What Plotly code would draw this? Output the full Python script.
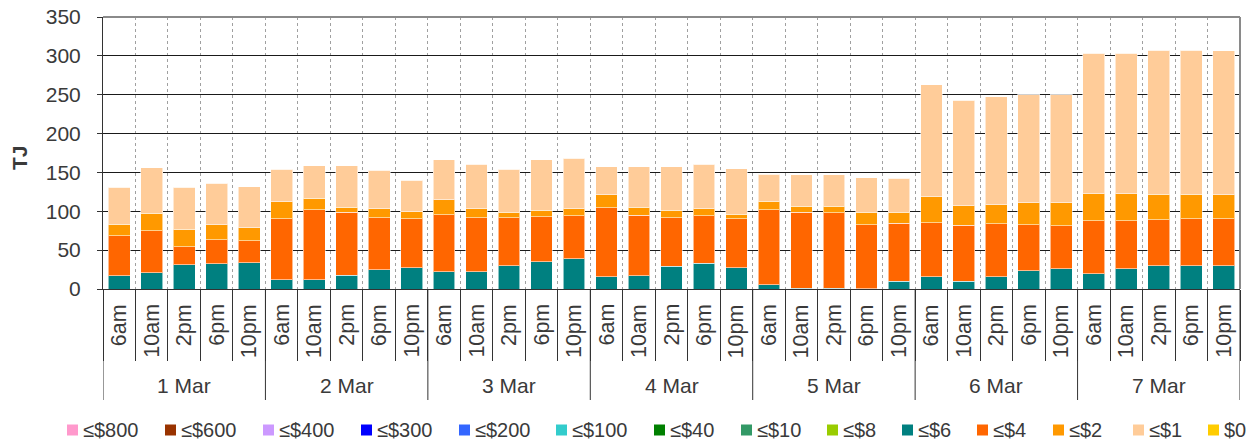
import plotly.graph_objects as go

days = ["1 Mar", "2 Mar", "3 Mar", "4 Mar", "5 Mar", "6 Mar", "7 Mar"]
times = ["6am", "10am", "2pm", "6pm", "10pm"]

series_names = ["≤$800", "≤$600", "≤$400", "≤$300", "≤$200", "≤$100", "≤$40",
                "≤$10", "≤$8", "≤$6", "≤$4", "≤$2", "≤$1", "$0"]
series_colors = ["#FF99CC", "#993300", "#CC99FF", "#0000FF", "#3366FF", "#33CCCC", "#008000",
                 "#339966", "#99CC00", "#008080", "#FF6600", "#FF9900", "#FFCC99", "#FFCC00"]

le6 = [17.2, 20.6, 31.0, 32.7, 33.5,
       11.6, 11.6, 18.0, 24.9, 27.5,
       21.9, 21.9, 30.1, 34.8, 38.7,
       15.5, 16.8, 29.2, 33.1, 27.1,
       5.6, 0.9, 0.9, 0.5, 10.3,
       15.5, 10.3, 15.5, 23.2, 25.8,
       19.8, 25.8, 30.1, 30.1, 30.1]
le4 = [51.6, 54.6, 23.2, 30.9, 28.5,
       78.7, 90.7, 80.5, 66.7, 62.8,
       73.5, 69.7, 61.5, 58.1, 55.5,
       89.0, 78.2, 62.8, 61.1, 63.2,
       96.7, 97.6, 97.1, 82.0, 74.0,
       69.6, 71.8, 68.3, 59.3, 55.5,
       67.9, 61.9, 58.9, 60.6, 60.2]
le2 = [14.6, 22.4, 22.8, 19.4, 16.7,
       21.9, 14.2, 6.4, 11.6, 9.0,
       19.4, 11.6, 7.3, 8.6, 9.0,
       16.7, 10.3, 9.5, 9.0, 5.6,
       10.8, 8.1, 8.6, 16.0, 14.6,
       33.6, 24.9, 24.5, 28.4, 29.6,
       34.8, 34.8, 33.1, 31.4, 30.9]
le1 = [47.3, 58.4, 53.7, 52.9, 52.9,
       42.1, 42.1, 53.7, 49.4, 40.9,
       51.2, 57.6, 55.4, 64.5, 65.3,
       36.1, 52.0, 55.8, 57.2, 58.9,
       34.8, 40.4, 40.4, 44.7, 43.8,
       144.0, 135.9, 138.9, 138.9, 138.9,
       180.6, 180.6, 185.3, 185.3, 185.3]
zero_series = [0.0] * 35

values = {"≤$6": le6, "≤$4": le4, "≤$2": le2, "≤$1": le1}

y_ticks = [0, 50, 100, 150, 200, 250, 300, 350]
y_title = "TJ"

# ---- layout geometry (pixels) ----
W, H = 1253, 443
ML, MR, MT, MB = 103, 13, 17, 154
PW = W - ML - MR
PH = H - MT - MB
TXT = "#3a3a3a"
FONT = "Liberation Sans, Arial, sans-serif"
# legend swatch left edges (px) and vertical centre (px)
legend_left_px = [67, 165, 263, 361, 459, 556, 654, 741, 827, 902, 977, 1053, 1133, 1208]
legend_y_px = 430
SW = 11


def px_to_paper_x(px):
    return (px - ML) / PW


def px_to_paper_y(py):
    return (H - MB - py) / PH


n = len(days) * len(times)
xs = list(range(n))

fig = go.Figure()
for name, color in zip(series_names, series_colors):
    fig.add_trace(go.Bar(
        x=xs, y=values.get(name, zero_series), name=name,
        marker=dict(color=color, line=dict(color="rgba(255,255,255,0.55)", width=1)),
        hoverinfo="name+y", showlegend=False,
    ))

annotations = []
shapes = []
nt = len(times)
for d, day in enumerate(days):
    for t, tm in enumerate(times):
        annotations.append(dict(
            x=d * nt + t, xref="x", y=0, yref="paper", yshift=-13,
            text=tm, textangle=-90, showarrow=False,
            xanchor="center", yanchor="top",
            font=dict(family=FONT, size=21.5, color=TXT)))
    annotations.append(dict(
        x=d * nt + (nt - 1) / 2, xref="x", y=0, yref="paper", yshift=-96,
        text=day, showarrow=False, xanchor="center", yanchor="middle",
        font=dict(family=FONT, size=21, color=TXT)))

# y-axis title
annotations.append(dict(x=px_to_paper_x(20), xref="paper", y=px_to_paper_y(158), yref="paper",
                        text="<b>" + y_title + "</b>", textangle=-90, showarrow=False,
                        xanchor="center", yanchor="middle",
                        font=dict(family=FONT, size=21, color=TXT)))

# day dividers (long separators)
for d in range(len(days) + 1):
    xb = d * nt - 0.5
    shapes.append(dict(type="line", xref="x", yref="paper", x0=xb, x1=xb,
                       y0=0, y1=-111 / PH, line=dict(color="#333333", width=1)))

# top / right frame
shapes.append(dict(type="line", xref="paper", yref="paper", x0=0, x1=1, y0=1, y1=1,
                   line=dict(color="#8a8a8a", width=2)))
shapes.append(dict(type="line", xref="paper", yref="paper", x0=1, x1=1, y0=0, y1=1,
                   line=dict(color="#8a8a8a", width=2)))

# legend (swatches + labels)
for name, color, lx in zip(series_names, series_colors, legend_left_px):
    shapes.append(dict(type="rect", xref="paper", yref="paper",
                       x0=px_to_paper_x(lx), x1=px_to_paper_x(lx + SW),
                       y0=px_to_paper_y(legend_y_px + SW / 2), y1=px_to_paper_y(legend_y_px - SW / 2),
                       fillcolor=color, line=dict(width=0)))
    annotations.append(dict(x=px_to_paper_x(lx + SW + 3), xref="paper",
                            y=px_to_paper_y(legend_y_px), yref="paper",
                            text=name, showarrow=False, xanchor="left", yanchor="middle",
                            font=dict(family=FONT, size=20, color=TXT)))

boundaries = [i - 0.5 for i in range(n + 1)]

fig.update_layout(
    width=W, height=H,
    margin=dict(l=ML, r=MR, t=MT, b=MB, autoexpand=False),
    barmode="stack", bargap=0.33,
    plot_bgcolor="white", paper_bgcolor="white",
    font=dict(family=FONT, size=20, color=TXT),
    annotations=annotations, shapes=shapes,
    showlegend=False,
    xaxis=dict(range=[-0.5, n - 0.5], tickmode="array", tickvals=boundaries,
               showticklabels=False, ticks="outside", ticklen=71, tickcolor="#333333",
               tickwidth=1, showgrid=True, gridcolor="#a0a0a0", griddash="dot",
               gridwidth=1, showline=True, linecolor="#333333", linewidth=1,
               zeroline=False, fixedrange=True, automargin=False),
    yaxis=dict(range=[0, 350], tickmode="array", tickvals=y_ticks,
               ticks="outside", ticklen=5, tickcolor="#333333",
               showgrid=True, gridcolor="#1a1a1a", gridwidth=1,
               showline=True, linecolor="#333333", linewidth=1,
               zeroline=False, ticklabelstandoff=12,
               tickfont=dict(family=FONT, size=21, color=TXT),
               fixedrange=True, automargin=False),
)

fig.write_html("out.html", config={"displayModeBar": False},
               post_script="document.body.style.margin='0';document.body.style.overflow='hidden';")
